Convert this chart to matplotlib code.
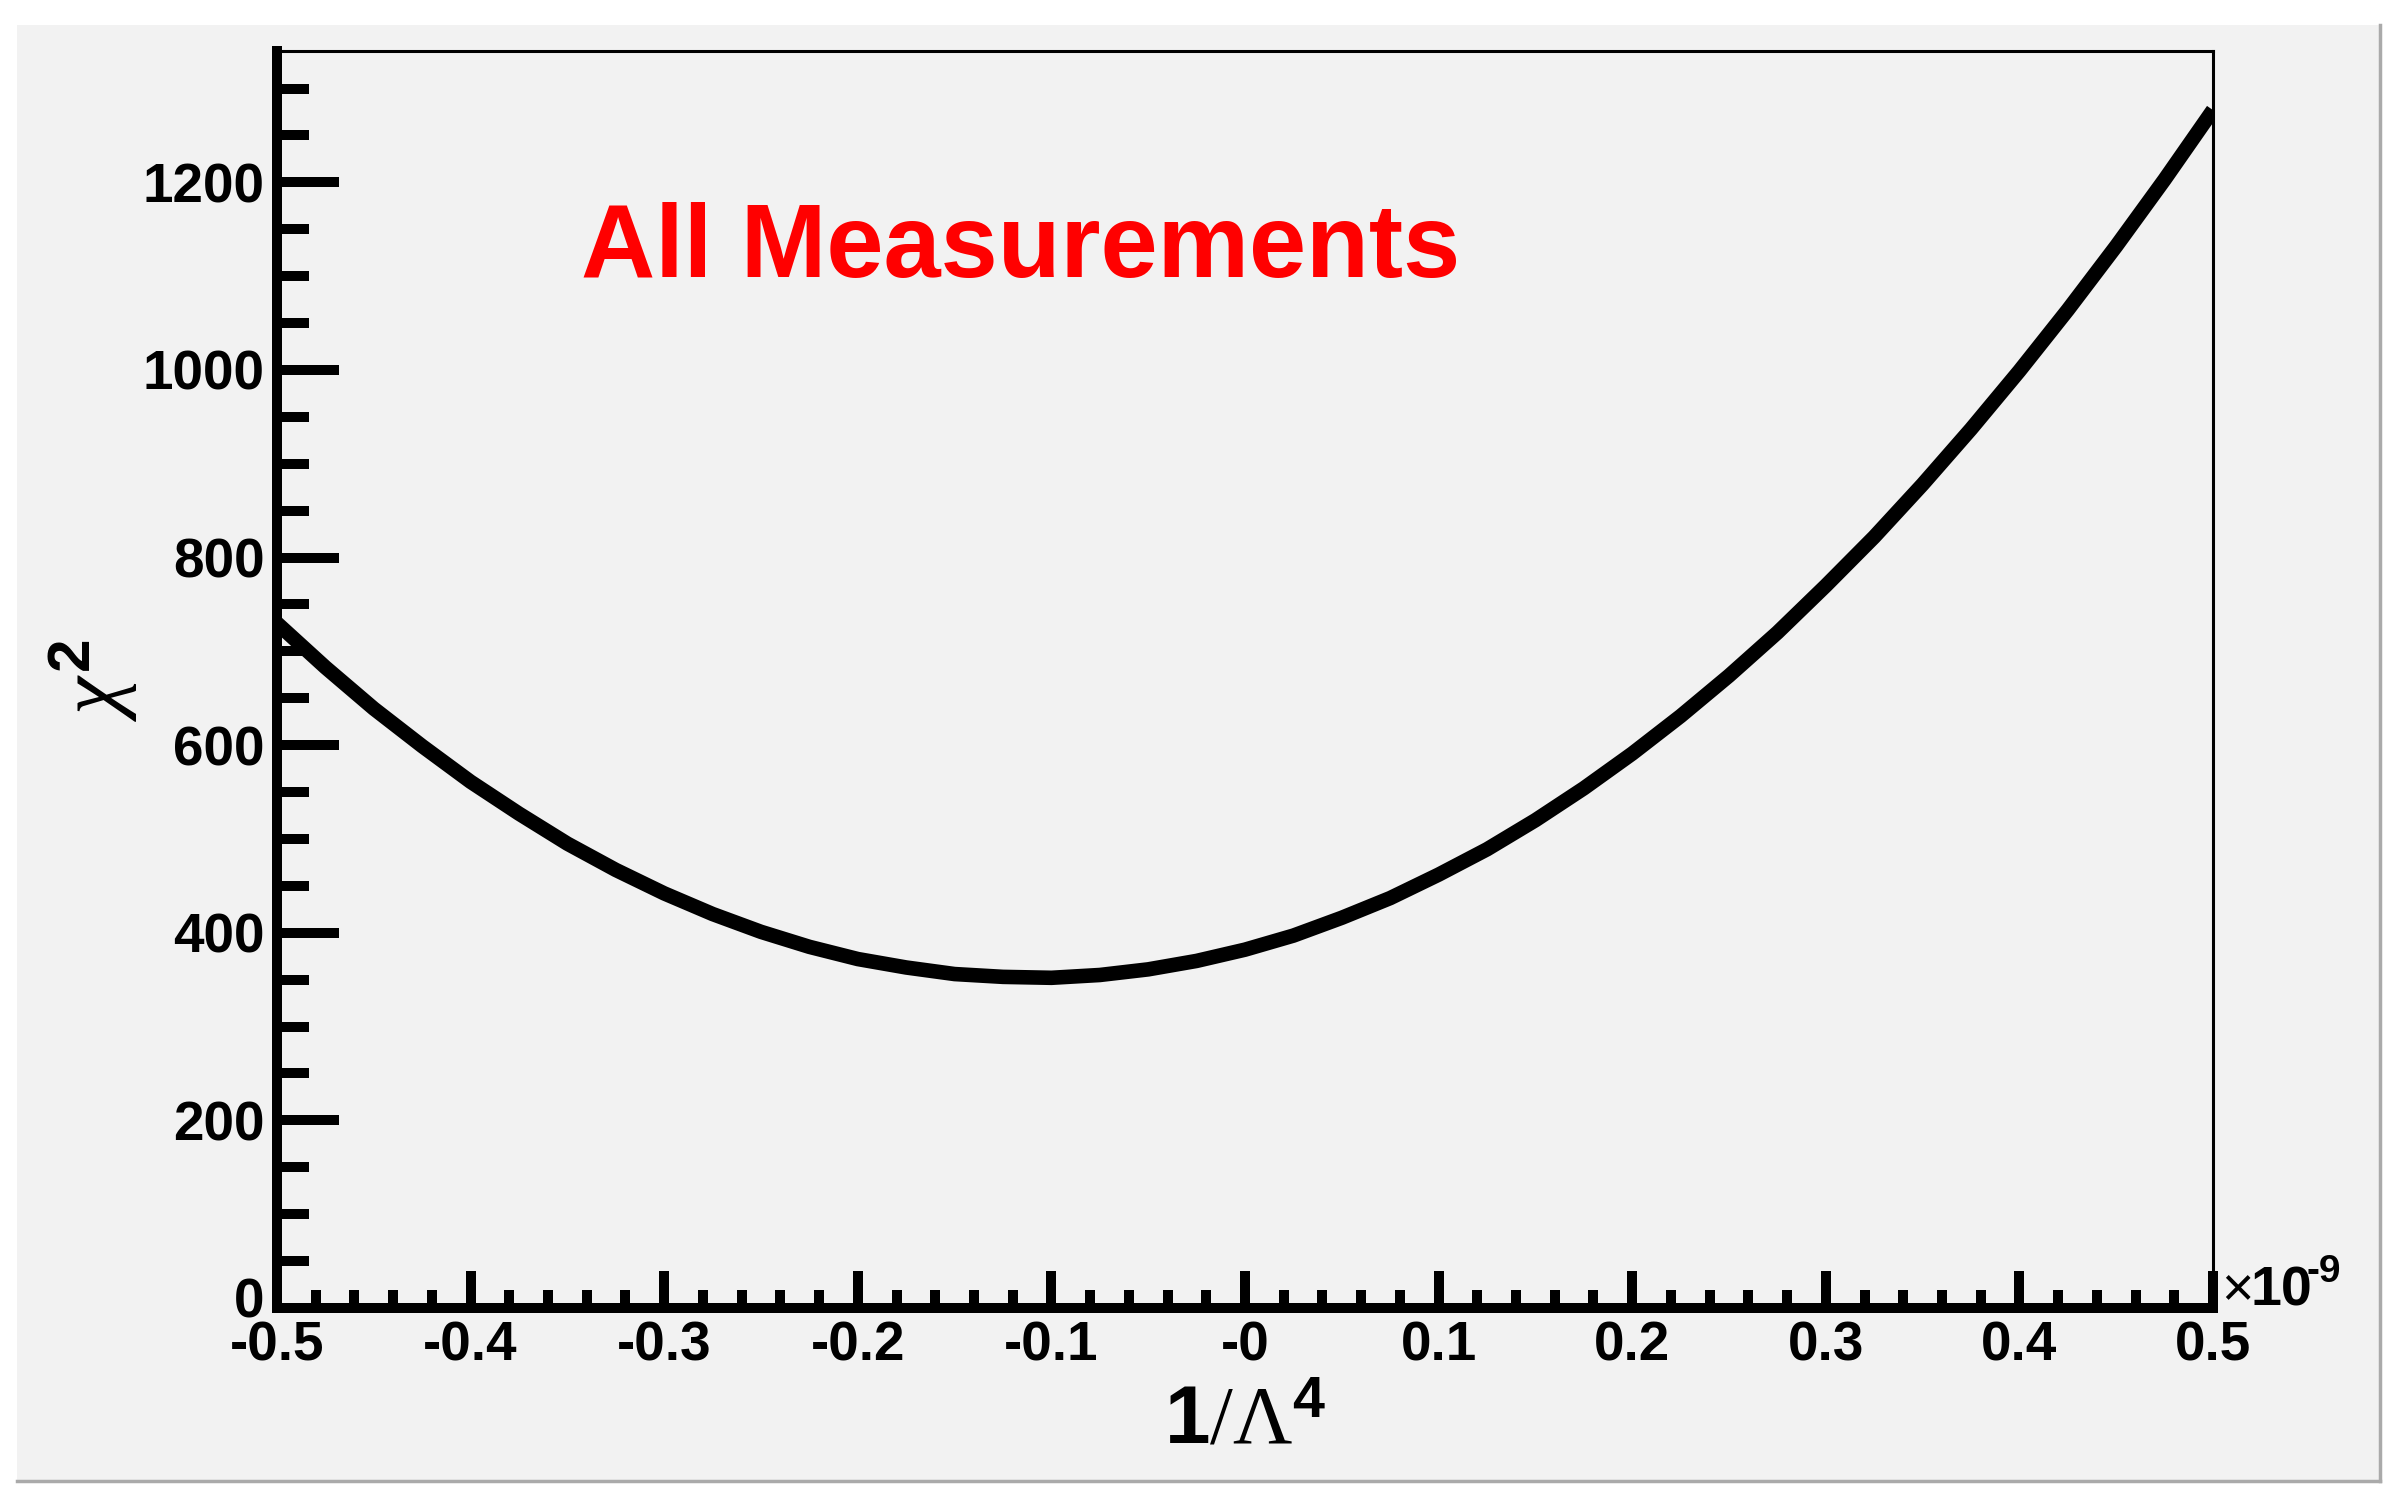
import numpy as np
import matplotlib
matplotlib.use('Agg')
import matplotlib.pyplot as plt
import matplotlib.transforms as mtransforms
from matplotlib.ticker import MultipleLocator, FixedLocator, FixedFormatter
from matplotlib.patches import Rectangle
from matplotlib.lines import Line2D

# chi2 scan, values (x in units of 1e-9)
inv_lambda4 = [-0.500, -0.475, -0.450, -0.425, -0.400, -0.375, -0.350, -0.325, -0.300, -0.275,
               -0.250, -0.225, -0.200, -0.175, -0.150, -0.125, -0.100, -0.075, -0.050, -0.025,
               0.000, 0.025, 0.050, 0.075, 0.100, 0.125, 0.150, 0.175, 0.200, 0.225,
               0.250, 0.275, 0.300, 0.325, 0.350, 0.375, 0.400, 0.425, 0.450, 0.475, 0.500]
chi2 = [730, 683, 639, 599, 561, 527, 495, 467, 442, 420,
        401, 385, 372, 363, 356, 353, 352, 355, 361, 370,
        382, 397, 416, 437, 462, 489, 520, 554, 591, 631,
        674, 720, 770, 822, 878, 937, 999, 1064, 1132, 1203, 1277]

xtick_pos = [-0.5, -0.4, -0.3, -0.2, -0.1, 0.0, 0.1, 0.2, 0.3, 0.4, 0.5]
xtick_labels = ['-0.5', '-0.4', '-0.3', '-0.2', '-0.1', '-0', '0.1', '0.2', '0.3', '0.4', '0.5']
ytick_pos = [0, 200, 400, 600, 800, 1000, 1200]

plt.rcParams['font.family'] = ['Liberation Sans', 'DejaVu Sans']
plt.rcParams['font.weight'] = 'bold'
plt.rcParams['mathtext.fontset'] = 'custom'
plt.rcParams['mathtext.rm'] = 'Liberation Serif:weight=normal'
plt.rcParams['mathtext.it'] = 'Liberation Serif:style=italic:weight=normal'
plt.rcParams['mathtext.bf'] = 'Liberation Sans:weight=bold'

W, H = 2397, 1504
fig = plt.figure(figsize=(W / 100, H / 100), dpi=100, facecolor='white')

# ROOT like canvas
fig.patches.append(Rectangle((17 / W, 1 - 1481 / H), (2380 - 17) / W, (1481 - 25) / H,
                             transform=fig.transFigure, facecolor='#f2f2f2', edgecolor='none',
                             zorder=-10))
fig.lines.append(Line2D([17 / W, 2380 / W], [1 - 1481 / H, 1 - 1481 / H], transform=fig.transFigure,
                        color='#aaaaaa', lw=2.5, zorder=-9))
fig.lines.append(Line2D([2380 / W, 2380 / W], [1 - 1481 / H, 1 - 25 / H], transform=fig.transFigure,
                        color='#aaaaaa', lw=2.5, zorder=-9))

ax = fig.add_axes([277 / W, 1 - 1308 / H, (2213 - 277) / W, (1308 - 51) / H])
ax.set_facecolor('#f2f2f2')

ax.plot(inv_lambda4, chi2, color='black', lw=10.5, solid_capstyle='butt', solid_joinstyle='round')

ax.set_xlim(-0.5, 0.5)
ax.set_ylim(0, 1340)

ax.xaxis.set_major_locator(FixedLocator(xtick_pos))
ax.xaxis.set_major_formatter(FixedFormatter(xtick_labels))
ax.xaxis.set_minor_locator(MultipleLocator(0.02))
ax.yaxis.set_major_locator(FixedLocator(ytick_pos))
ax.yaxis.set_minor_locator(MultipleLocator(50))

for s in ['left', 'bottom']:
    ax.spines[s].set_linewidth(7.2)
for s in ['top', 'right']:
    ax.spines[s].set_linewidth(2.2)

ax.tick_params(axis='x', which='major', direction='in', length=26.5, width=7.2,
               labelsize=39.5, pad=9, top=False)
ax.tick_params(axis='x', which='minor', direction='in', length=13, width=7.2, top=False)
ax.tick_params(axis='y', which='major', direction='in', length=44.5, width=7.2,
               labelsize=39.5, pad=9, right=False)
ax.tick_params(axis='y', which='minor', direction='in', length=23, width=7.2, right=False)

# ROOT draws the "0" of the y axis a bit higher, clear of "-0.5"
zero_lbl = ax.yaxis.get_major_ticks()[0].label1
zero_lbl.set_transform(zero_lbl.get_transform() +
                       mtransforms.ScaledTranslation(0, 10 / 100, fig.dpi_scale_trans))

fig.text(581 / W, 1 - 277 / H, 'All Measurements',
         color='red', fontsize=74, fontweight='bold', ha='left', va='baseline')

fig.text(1245 / W, 1 - 1444 / H, r'$\mathbf{1}/\Lambda^{\mathbf{4}}$', fontsize=59,
         ha='center', va='baseline')
fig.text(139 / W, 1 - 680 / H, r'$\chi^{\mathbf{2}}$', fontsize=62, rotation=90,
         ha='right', va='center')

# axis exponent
fig.text(2221 / W, 1 - 1305 / H, '\u00d7', fontsize=40, fontweight='normal',
         ha='left', va='baseline')
fig.text(2250 / W, 1 - 1305 / H, '10', fontsize=40, ha='left', va='baseline')
fig.text(2307 / W, 1 - 1282 / H, '-9', fontsize=28, ha='left', va='baseline')

fig.savefig('out.png', dpi=100, facecolor='white')
